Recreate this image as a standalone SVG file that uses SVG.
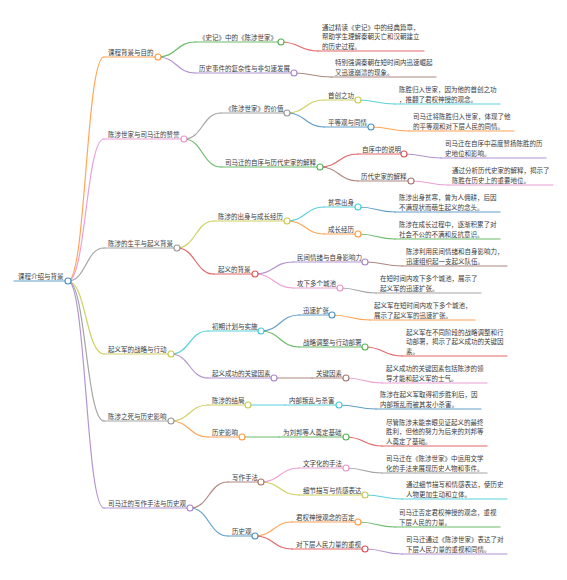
<svg xmlns="http://www.w3.org/2000/svg" width="567" height="580" viewBox="0 0 567 580">
<style>
.t{font-family:"Noto Sans CJK SC","Noto Sans",sans-serif;font-size:6.5px;fill:#3a3a3a}
.l{fill:none;stroke-width:1.2;stroke-linecap:round;stroke-opacity:0.7}
.u{stroke-width:1.2;stroke-linecap:round;stroke-opacity:0.7}
.k{fill:#fff;stroke-width:1.1;stroke-opacity:0.8}
.c0{stroke:#1f77b4}.c1{stroke:#ff7f0e}.c2{stroke:#2ca02c}.c3{stroke:#d62728}.c4{stroke:#9467bd}
.c5{stroke:#8c564b}.c6{stroke:#e377c2}.c7{stroke:#7f7f7f}.c8{stroke:#bcbd22}.c9{stroke:#17becf}
</style>
<rect width="567" height="580" fill="#fff"/>
<g id="connectors">
<path class="l c1" d="M68,281 C86,281 86,57 104,57"/>
<path class="l c6" d="M68,281 C86,281 86,139 104,139"/>
<path class="l c7" d="M68,281 C86,281 86,248 104,248"/>
<path class="l c8" d="M68,281 C86,281 86,354 104,354"/>
<path class="l c7" d="M68,281 C86,281 86,421 104,421"/>
<path class="l c4" d="M68,281 C86,281 86,508 104,508"/>
<path class="l c2" d="M158,57 C176.5,57 176.5,42 195,42"/>
<path class="l c4" d="M158,57 C176.5,57 176.5,73 195,73"/>
<path class="l c3" d="M281,42 C299.5,42 299.5,51 318,51"/>
<path class="l c5" d="M294,73 C312.5,73 312.5,77 331,77"/>
<path class="l c7" d="M184,139 C202.5,139 202.5,113 221,113"/>
<path class="l c2" d="M184,139 C202.5,139 202.5,167 221,167"/>
<path class="l c8" d="M287,113 C305.5,113 305.5,100 324,100"/>
<path class="l c0" d="M287,113 C305.5,113 305.5,127 324,127"/>
<path class="l c9" d="M358,100 C376.5,100 376.5,104 395,104"/>
<path class="l c1" d="M371,127 C390,127 390,131 409,131"/>
<path class="l c3" d="M320,167 C339,167 339,154 358,154"/>
<path class="l c5" d="M320,167 C339,167 339,181 358,181"/>
<path class="l c4" d="M404,154 C422.5,154 422.5,158 441,158"/>
<path class="l c6" d="M411,181 C429.5,181 429.5,185 448,185"/>
<path class="l c8" d="M177,248 C195.5,248 195.5,221 214,221"/>
<path class="l c3" d="M177,248 C195.5,248 195.5,274 214,274"/>
<path class="l c9" d="M287,221 C305.5,221 305.5,207 324,207"/>
<path class="l c1" d="M287,221 C305.5,221 305.5,234 324,234"/>
<path class="l c0" d="M358,207 C376.5,207 376.5,212 395,212"/>
<path class="l c2" d="M358,234 C376.5,234 376.5,239 395,239"/>
<path class="l c4" d="M255,274 C274,274 274,262 293,262"/>
<path class="l c6" d="M255,274 C274,274 274,288 293,288"/>
<path class="l c5" d="M365,262 C383.5,262 383.5,266 402,266"/>
<path class="l c7" d="M340,288 C358,288 358,293 376,293"/>
<path class="l c9" d="M171,354 C189.5,354 189.5,331 208,331"/>
<path class="l c4" d="M171,354 C189.5,354 189.5,378 208,378"/>
<path class="l c0" d="M261,331 C280,331 280,315 299,315"/>
<path class="l c2" d="M261,331 C280,331 280,347 299,347"/>
<path class="l c1" d="M332,315 C351,315 351,320 370,320"/>
<path class="l c3" d="M365,347 C383.5,347 383.5,356 402,356"/>
<path class="l c5" d="M274,378 C293,378 293,378 312,378"/>
<path class="l c6" d="M346,378 C364,378 364,383 382,383"/>
<path class="l c8" d="M171,421 C189.5,421 189.5,405 208,405"/>
<path class="l c1" d="M171,421 C189.5,421 189.5,437 208,437"/>
<path class="l c9" d="M248,405 C266.5,405 266.5,405 285,405"/>
<path class="l c0" d="M339,405 C357.5,405 357.5,409 376,409"/>
<path class="l c2" d="M242,437 C260.5,437 260.5,437 279,437"/>
<path class="l c3" d="M346,437 C364,437 364,446 382,446"/>
<path class="l c5" d="M190,508 C209,508 209,482 228,482"/>
<path class="l c0" d="M190,508 C209,508 209,536 228,536"/>
<path class="l c6" d="M261,482 C280,482 280,468 299,468"/>
<path class="l c8" d="M261,482 C280,482 280,495 299,495"/>
<path class="l c7" d="M346,468 C364,468 364,473 382,473"/>
<path class="l c9" d="M365,495 C383.5,495 383.5,499 402,499"/>
<path class="l c1" d="M255,536 C273.5,536 273.5,522 292,522"/>
<path class="l c3" d="M255,536 C273.5,536 273.5,549 292,549"/>
<path class="l c2" d="M358,522 C376.5,522 376.5,527 395,527"/>
<path class="l c4" d="M365,549 C383.5,549 383.5,554 402,554"/>
</g>
<g id="root"><line class="u c0" x1="14" y1="281" x2="68" y2="281"/><text class="t" x="18" y="279">课程介绍与背景</text><circle class="k c0" cx="68" cy="281" r="3"/></g>
<g id="n-a"><line class="u c1" x1="104" y1="57" x2="158" y2="57"/><text class="t" x="108" y="55">课程背景与目的</text><circle class="k c1" cx="158" cy="57" r="3"/></g>
<g id="n-a1"><line class="u c2" x1="195" y1="42" x2="281" y2="42"/><text class="t" x="199" y="40">《史记》中的《陈涉世家》</text><circle class="k c2" cx="281" cy="42" r="3"/></g>
<g id="n-a1l"><line class="u c3" x1="318" y1="51" x2="424" y2="51"/><text class="t" x="322" y="30">通过精读《史记》中的经典篇章，<tspan x="322" dy="9.3">帮助学生理解秦朝灭亡和汉朝建立</tspan><tspan x="322" dy="9.3">的历史过程。</tspan></text></g>
<g id="n-a2"><line class="u c4" x1="195" y1="73" x2="294" y2="73"/><text class="t" x="199" y="71">历史事件的复杂性与非匀速发展</text><circle class="k c4" cx="294" cy="73" r="3"/></g>
<g id="n-a2l"><line class="u c5" x1="331" y1="77" x2="436" y2="77"/><text class="t" x="335" y="65.2">特别强调秦朝在短时间内迅速崛起<tspan x="335" dy="9.3">又迅速崩溃的现象。</tspan></text></g>
<g id="n-b"><line class="u c6" x1="104" y1="139" x2="184" y2="139"/><text class="t" x="108" y="137">陈涉世家与司马迁的赞誉</text><circle class="k c6" cx="184" cy="139" r="3"/></g>
<g id="n-b1"><line class="u c7" x1="221" y1="113" x2="287" y2="113"/><text class="t" x="225" y="111">《陈涉世家》的价值</text><circle class="k c7" cx="287" cy="113" r="3"/></g>
<g id="n-b1a"><line class="u c8" x1="324" y1="100" x2="358" y2="100"/><text class="t" x="328" y="98">首创之功</text><circle class="k c8" cx="358" cy="100" r="3"/></g>
<g id="n-b1al"><line class="u c9" x1="395" y1="104" x2="500" y2="104"/><text class="t" x="399" y="92.2">陈胜归入世家，因为他的首创之功<tspan x="399" dy="9.3">，推翻了君权神授的观念。</tspan></text></g>
<g id="n-b1b"><line class="u c0" x1="324" y1="127" x2="371" y2="127"/><text class="t" x="328" y="125">平等观与同情</text><circle class="k c0" cx="371" cy="127" r="3"/></g>
<g id="n-b1bl"><line class="u c1" x1="409" y1="131" x2="514" y2="131"/><text class="t" x="413" y="119.2">司马迁将陈胜归入世家，体现了他<tspan x="413" dy="9.3">的平等观和对下层人民的同情。</tspan></text></g>
<g id="n-b2"><line class="u c2" x1="221" y1="167" x2="320" y2="167"/><text class="t" x="225" y="165">司马迁的自序与历代史家的解释</text><circle class="k c2" cx="320" cy="167" r="3"/></g>
<g id="n-b2a"><line class="u c3" x1="358" y1="154" x2="404" y2="154"/><text class="t" x="362" y="152">自序中的说明</text><circle class="k c3" cx="404" cy="154" r="3"/></g>
<g id="n-b2al"><line class="u c4" x1="441" y1="158" x2="546" y2="158"/><text class="t" x="445" y="146.2">司马迁在自序中高度赞扬陈胜的历<tspan x="445" dy="9.3">史地位和影响。</tspan></text></g>
<g id="n-b2b"><line class="u c5" x1="358" y1="181" x2="411" y2="181"/><text class="t" x="361" y="179">历代史家的解释</text><circle class="k c5" cx="411" cy="181" r="3"/></g>
<g id="n-b2bl"><line class="u c6" x1="448" y1="185" x2="553" y2="185"/><text class="t" x="452" y="173.2">通过分析历代史家的解释，揭示了<tspan x="452" dy="9.3">陈胜在历史上的重要地位。</tspan></text></g>
<g id="n-c"><line class="u c7" x1="104" y1="248" x2="177" y2="248"/><text class="t" x="108" y="246">陈涉的生平与起义背景</text><circle class="k c7" cx="177" cy="248" r="3"/></g>
<g id="n-c1"><line class="u c8" x1="214" y1="221" x2="287" y2="221"/><text class="t" x="218" y="219">陈涉的出身与成长经历</text><circle class="k c8" cx="287" cy="221" r="3"/></g>
<g id="n-c1a"><line class="u c9" x1="324" y1="207" x2="358" y2="207"/><text class="t" x="328" y="205">贫寒出身</text><circle class="k c9" cx="358" cy="207" r="3"/></g>
<g id="n-c1al"><line class="u c0" x1="395" y1="212" x2="500" y2="212"/><text class="t" x="399" y="200.2">陈涉出身贫寒，曾为人佣耕，后因<tspan x="399" dy="9.3">不满现状而萌生起义的念头。</tspan></text></g>
<g id="n-c1b"><line class="u c1" x1="324" y1="234" x2="358" y2="234"/><text class="t" x="328" y="232">成长经历</text><circle class="k c1" cx="358" cy="234" r="3"/></g>
<g id="n-c1bl"><line class="u c2" x1="395" y1="239" x2="500" y2="239"/><text class="t" x="399" y="227.2">陈涉在成长过程中，逐渐积累了对<tspan x="399" dy="9.3">社会不公的不满和反抗意识。</tspan></text></g>
<g id="n-c2"><line class="u c3" x1="214" y1="274" x2="255" y2="274"/><text class="t" x="218" y="272">起义的背景</text><circle class="k c3" cx="255" cy="274" r="3"/></g>
<g id="n-c2a"><line class="u c4" x1="293" y1="262" x2="365" y2="262"/><text class="t" x="297" y="260">民间情绪与自身影响力</text><circle class="k c4" cx="365" cy="262" r="3"/></g>
<g id="n-c2al"><line class="u c5" x1="402" y1="266" x2="507" y2="266"/><text class="t" x="406" y="254.2">陈涉利用民间情绪和自身影响力，<tspan x="406" dy="9.3">迅速组织起一支起义队伍。</tspan></text></g>
<g id="n-c2b"><line class="u c6" x1="293" y1="288" x2="340" y2="288"/><text class="t" x="297" y="286">攻下多个城池</text><circle class="k c6" cx="340" cy="288" r="3"/></g>
<g id="n-c2bl"><line class="u c7" x1="376" y1="293" x2="481" y2="293"/><text class="t" x="380" y="281.2">在短时间内攻下多个城池，展示了<tspan x="380" dy="9.3">起义军的迅速扩张。</tspan></text></g>
<g id="n-d"><line class="u c8" x1="104" y1="354" x2="171" y2="354"/><text class="t" x="108" y="352">起义军的战略与行动</text><circle class="k c8" cx="171" cy="354" r="3"/></g>
<g id="n-d1"><line class="u c9" x1="208" y1="331" x2="261" y2="331"/><text class="t" x="212" y="329">初期计划与实施</text><circle class="k c9" cx="261" cy="331" r="3"/></g>
<g id="n-d1a"><line class="u c0" x1="299" y1="315" x2="332" y2="315"/><text class="t" x="303" y="313">迅速扩张</text><circle class="k c0" cx="332" cy="315" r="3"/></g>
<g id="n-d1al"><line class="u c1" x1="370" y1="320" x2="475" y2="320"/><text class="t" x="374" y="308.2">起义军在短时间内攻下多个城池，<tspan x="374" dy="9.3">展示了起义军的迅速扩张。</tspan></text></g>
<g id="n-d1b"><line class="u c2" x1="299" y1="347" x2="365" y2="347"/><text class="t" x="303" y="345">战略调整与行动部署</text><circle class="k c2" cx="365" cy="347" r="3"/></g>
<g id="n-d1bl"><line class="u c3" x1="402" y1="356" x2="507" y2="356"/><text class="t" x="406" y="334.9">起义军在不同阶段的战略调整和行<tspan x="406" dy="9.3">动部署，揭示了起义成功的关键因</tspan><tspan x="406" dy="9.3">素。</tspan></text></g>
<g id="n-d2"><line class="u c4" x1="208" y1="378" x2="274" y2="378"/><text class="t" x="212" y="376">起义成功的关键因素</text><circle class="k c4" cx="274" cy="378" r="3"/></g>
<g id="n-d2a"><line class="u c5" x1="312" y1="378" x2="346" y2="378"/><text class="t" x="316" y="376">关键因素</text><circle class="k c5" cx="346" cy="378" r="3"/></g>
<g id="n-d2al"><line class="u c6" x1="382" y1="383" x2="487" y2="383"/><text class="t" x="386" y="371.2">起义成功的关键因素包括陈涉的领<tspan x="386" dy="9.3">导才能和起义军的士气。</tspan></text></g>
<g id="n-e"><line class="u c7" x1="104" y1="421" x2="171" y2="421"/><text class="t" x="108" y="419">陈涉之死与历史影响</text><circle class="k c7" cx="171" cy="421" r="3"/></g>
<g id="n-e1"><line class="u c8" x1="208" y1="405" x2="248" y2="405"/><text class="t" x="212" y="403">陈涉的结局</text><circle class="k c8" cx="248" cy="405" r="3"/></g>
<g id="n-e1a"><line class="u c9" x1="285" y1="405" x2="339" y2="405"/><text class="t" x="289" y="403">内部叛乱与杀害</text><circle class="k c9" cx="339" cy="405" r="3"/></g>
<g id="n-e1al"><line class="u c0" x1="376" y1="409" x2="481" y2="409"/><text class="t" x="380" y="397.2">陈涉在起义军取得初步胜利后，因<tspan x="380" dy="9.3">内部叛乱而被其发小杀害。</tspan></text></g>
<g id="n-e2"><line class="u c1" x1="208" y1="437" x2="242" y2="437"/><text class="t" x="212" y="435">历史影响</text><circle class="k c1" cx="242" cy="437" r="3"/></g>
<g id="n-e2a"><line class="u c2" x1="279" y1="437" x2="346" y2="437"/><text class="t" x="283" y="435">为刘邦等人奠定基础</text><circle class="k c2" cx="346" cy="437" r="3"/></g>
<g id="n-e2al"><line class="u c3" x1="382" y1="446" x2="487" y2="446"/><text class="t" x="386" y="424.9">尽管陈涉未能亲眼见证起义的最终<tspan x="386" dy="9.3">胜利，但他的努力为后来的刘邦等</tspan><tspan x="386" dy="9.3">人奠定了基础。</tspan></text></g>
<g id="n-f"><line class="u c4" x1="104" y1="508" x2="190" y2="508"/><text class="t" x="108" y="506">司马迁的写作手法与历史观</text><circle class="k c4" cx="190" cy="508" r="3"/></g>
<g id="n-f1"><line class="u c5" x1="228" y1="482" x2="261" y2="482"/><text class="t" x="232" y="480">写作手法</text><circle class="k c5" cx="261" cy="482" r="3"/></g>
<g id="n-f1a"><line class="u c6" x1="299" y1="468" x2="346" y2="468"/><text class="t" x="303" y="466">文字化的手法</text><circle class="k c6" cx="346" cy="468" r="3"/></g>
<g id="n-f1al"><line class="u c7" x1="382" y1="473" x2="487" y2="473"/><text class="t" x="386" y="461.2">司马迁在《陈涉世家》中运用文学<tspan x="386" dy="9.3">化的手法来展现历史人物和事件。</tspan></text></g>
<g id="n-f1b"><line class="u c8" x1="299" y1="495" x2="365" y2="495"/><text class="t" x="303" y="493">细节描写与情感表达</text><circle class="k c8" cx="365" cy="495" r="3"/></g>
<g id="n-f1bl"><line class="u c9" x1="402" y1="499" x2="507" y2="499"/><text class="t" x="406" y="487.2">通过细节描写和情感表达，使历史<tspan x="406" dy="9.3">人物更加生动和立体。</tspan></text></g>
<g id="n-f2"><line class="u c0" x1="228" y1="536" x2="255" y2="536"/><text class="t" x="232" y="534">历史观</text><circle class="k c0" cx="255" cy="536" r="3"/></g>
<g id="n-f2a"><line class="u c1" x1="292" y1="522" x2="358" y2="522"/><text class="t" x="296" y="520">君权神授观念的否定</text><circle class="k c1" cx="358" cy="522" r="3"/></g>
<g id="n-f2al"><line class="u c2" x1="395" y1="527" x2="500" y2="527"/><text class="t" x="399" y="515.2">司马迁否定君权神授的观念，重视<tspan x="399" dy="9.3">下层人民的力量。</tspan></text></g>
<g id="n-f2b"><line class="u c3" x1="292" y1="549" x2="365" y2="549"/><text class="t" x="296" y="547">对下层人民力量的重视</text><circle class="k c3" cx="365" cy="549" r="3"/></g>
<g id="n-f2bl"><line class="u c4" x1="402" y1="554" x2="507" y2="554"/><text class="t" x="406" y="542.2">司马迁通过《陈涉世家》表达了对<tspan x="406" dy="9.3">下层人民力量的重视和同情。</tspan></text></g>
</svg>
